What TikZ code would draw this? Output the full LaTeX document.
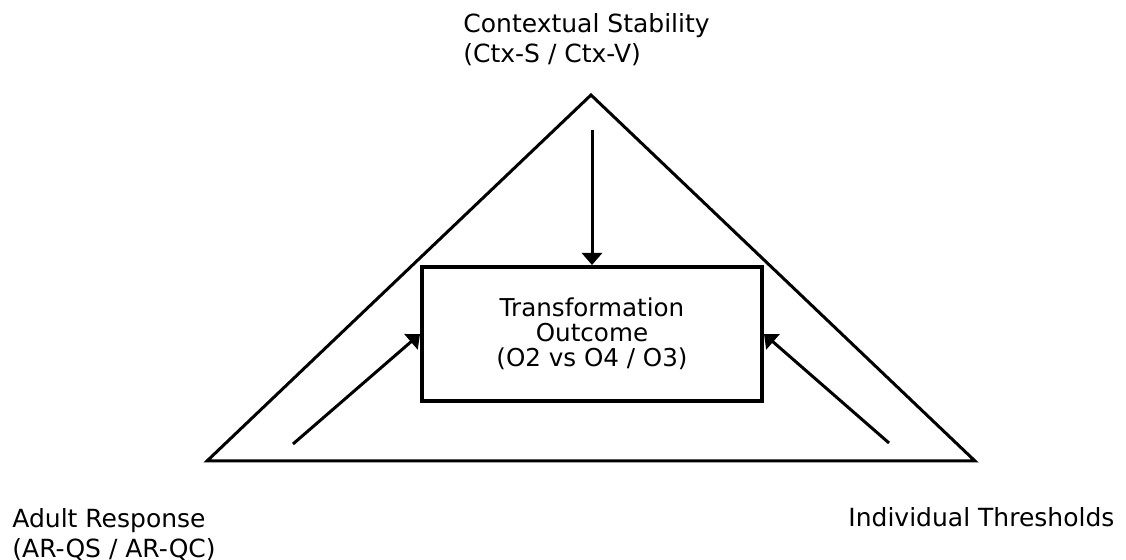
\documentclass[tikz,border=0pt]{standalone}
\usepackage{fontspec}
\setmainfont{DejaVu Sans}
\usetikzlibrary{arrows.meta,positioning}

\tikzset{
  outcome/.style={draw, line width=2pt, minimum width=170pt, minimum height=67pt,
    align=center, inner sep=0pt, font=\fontsize{12.3}{12.5}\selectfont},
  factor/.style={align=left, inner sep=0pt, font=\fontsize{12.5}{15}\selectfont},
  influence/.style={-{Triangle[width=10pt,length=6pt]}, line width=1.5pt},
}

\begin{document}
\begin{tikzpicture}[x=0.5pt,y=-0.5pt]
        \useasboundingbox (0,0) rectangle (1126,560);

        % the triangle of factors
        \coordinate (apex) at (591,95);
        \coordinate (left corner) at (207,461);
        \coordinate (right corner) at (975,461);
        \draw[line width=1.5pt] (apex) -- (left corner) -- (right corner) -- cycle;

        \node[outcome] (outcome) at (592,334) {Transformation\\Outcome\\(O2 vs O4 / O3)};

        \node[factor, anchor=north west] (context) at (463,13) {Contextual Stability\\(Ctx-S / Ctx-V)};
        \node[factor, anchor=north west] (adult) at (12,508) {Adult Response\\(AR-QS / AR-QC)};
        \node[factor, anchor=base west] (thresholds) at (848,527) {Individual Thresholds};

        % where the influences start
        \coordinate (context start) at (592,130);
        \coordinate (adult start) at (293,444);
        \coordinate (thresholds start) at (889,443);

        \draw[influence] (context start) -- (outcome.north);
        \draw[influence] (adult start) -- (outcome.west);
        \draw[influence] (thresholds start) -- (outcome.east);
\end{tikzpicture}
\end{document}
